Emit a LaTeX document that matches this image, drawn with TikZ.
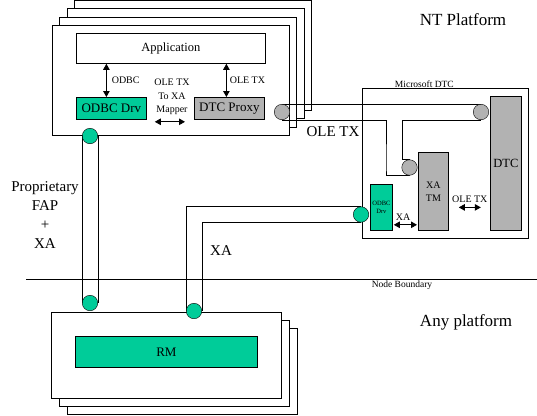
\documentclass[tikz,border=0pt]{standalone}
\usepackage{fontspec}
\setmainfont{Liberation Serif}
\usepackage{xcolor}
\definecolor{dtcGreen}{HTML}{00CC99}
\definecolor{dtcGray}{HTML}{B2B2B2}
\usetikzlibrary{positioning, arrows.meta}
\pgfdeclarelayer{front}
\pgfsetlayers{main,front}
\newcommand{\txtsize}[2]{\fontsize{#1}{#2}\selectfont}

\begin{document}
\begin{tikzpicture}[
    x=1pt, y=-1pt, line width=0.8pt,
    box/.style={draw, fill=white, inner sep=0pt, anchor=north west},
    port/.style={circle, draw, inner sep=0pt, minimum size=15.5pt},
    % double headed interface arrows
    link/.style={{Triangle[length=6pt,width=6.5pt]}-{Triangle[length=6pt,width=6.5pt]}},
    lbl/.style={inner sep=0pt, align=center},
]
\useasboundingbox (0,0) rectangle (537,415);

%% =================================================================
%% NT platform stack (top-left)
%% =================================================================
\foreach \k in {3,2,1}
  \node[box, minimum width=237pt, minimum height=110pt] at ({52+7.4*\k},{25-8.3*\k}) {};
\node[box, minimum width=237pt, minimum height=110pt] (nt) at (52,25) {};

\node[box, minimum width=189pt, minimum height=30pt, font=\txtsize{12.5}{14}] (app) at (76,33) {Application};
\node[box, fill=dtcGreen, minimum width=70pt, minimum height=22pt, font=\txtsize{13}{15}] (odbc) at (76,97) {ODBC Drv};
\node[box, fill=dtcGray, minimum width=70pt, minimum height=22pt, font=\txtsize{13}{15}] (proxy) at (194,97) {DTC Proxy};

\draw[link] ([xshift=-5pt]odbc.north) -- ([xshift=-64.5pt]app.south)
    node[midway, right=5pt, lbl, font=\txtsize{10}{12}] {ODBC};
\draw[link] ([xshift=-3pt]proxy.north) -- ([xshift=55.5pt]app.south)
    node[midway, right=3pt, lbl, font=\txtsize{10}{12}] {OLE TX};

\node[lbl, font=\txtsize{10}{13.5}] (mapper) at (172,97) {OLE TX\\To XA\\Mapper};
\draw[link] ([xshift=8pt,yshift=-2pt]odbc.south east) -- ([xshift=-9pt,yshift=-2pt]proxy.south west);

%% =================================================================
%% Microsoft DTC (right)
%% =================================================================
\node[box, minimum width=166pt, minimum height=150pt] (msdtc) at (362,88) {};
\node[lbl, anchor=south, font=\txtsize{9.5}{10}] (msdtclbl) at ([xshift=-21pt]msdtc.north) {Microsoft DTC};

\node[box, fill=dtcGray, minimum width=31pt, minimum height=134pt, font=\txtsize{12.5}{14}] (dtc) at (490,96) {DTC};
\node[box, fill=dtcGray, minimum width=30pt, minimum height=78pt, align=center, font=\txtsize{10}{13}] (xatm) at (418,152) {XA\\TM};
\node[box, fill=dtcGreen, minimum width=22pt, minimum height=46pt, align=center, font=\txtsize{6.5}{8}] (odbcx) at (370,184) {ODBC\\Drv};

\draw[link] ([xshift=1pt,yshift=6pt]odbcx.south east) -- ([xshift=-1pt,yshift=6pt]xatm.south west)
    node[pos=0.4, above=4pt, lbl, font=\txtsize{10}{12}] {XA};
\draw[link] ([xshift=10pt,yshift=-16pt]xatm.east) -- ++(22,0)
    node[midway, above=4pt, lbl, font=\txtsize{10}{12}] {OLE TX};

%% =================================================================
%% Resource manager stack (bottom-left)
%% =================================================================
\foreach \k in {2,1}
  \node[box, minimum width=230pt, minimum height=86pt] at ({51+8*\k},{312+8*\k}) {};
\node[box, minimum width=230pt, minimum height=86pt] (rmhost) at (51,312) {};
\node[box, fill=dtcGreen, minimum width=182pt, minimum height=31pt, font=\txtsize{13}{15}] (rm) at (75,336) {RM};

%% =================================================================
%% Node boundary and labels
%% =================================================================
\coordinate (nbW) at (26,279);
\coordinate (nbE) at (537,279);
\draw (nbW) -- (nbE);
\node[lbl, font=\txtsize{9.5}{10}] (nblbl) at (402,285) {Node Boundary};

\node[lbl, font=\txtsize{17}{19}] (ntlbl) at (463,20) {NT Platform};
\node[lbl, font=\txtsize{17}{19}] (anylbl) at (466,322) {Any platform};
\node[lbl, font=\txtsize{15}{17}] (oletx) at (333,132) {OLE TX};
\node[lbl, font=\txtsize{15}{17}] (xalbl) at (221,251) {XA};
\node[lbl, font=\txtsize{15}{19}] (faplbl) at (45,215.5) {Proprietary\\FAP\\+\\XA};

%% =================================================================
%% Ports (on top) and tubes between them
%% =================================================================
\begin{pgfonlayer}{front}
\node[port, fill=dtcGray] (oleL) at (282,112) {};
\node[port, fill=dtcGray] (oleR) at (481,112) {};
\node[port, fill=dtcGray] (oleD) at (409.5,167.5) {};
\node[port, fill=dtcGreen] (xaTop) at (361,214.5) {};
\node[port, fill=dtcGreen] (xaBot) at (194,311) {};
\node[port, fill=dtcGreen] (fapTop) at (90,136) {};
\node[port, fill=dtcGreen] (fapBot) at (90,303) {};
\end{pgfonlayer}

% OLE TX tube
\draw (oleL.north) -- (oleR.north);
\draw (oleL.south) -| ([xshift=-23.5pt]oleD.center) |- (oleD.south);
\draw (oleR.south) -| ([xshift=-7.5pt]oleD.north) -- (oleD.north);

% XA tube
\draw (xaTop.north) -| (xaBot.west);
\draw (xaTop.south) -| (xaBot.east);

% FAP + XA tube
\draw (fapTop.west) -- (fapBot.west);
\draw (fapTop.east) -- (fapBot.east);

\end{tikzpicture}
\end{document}
